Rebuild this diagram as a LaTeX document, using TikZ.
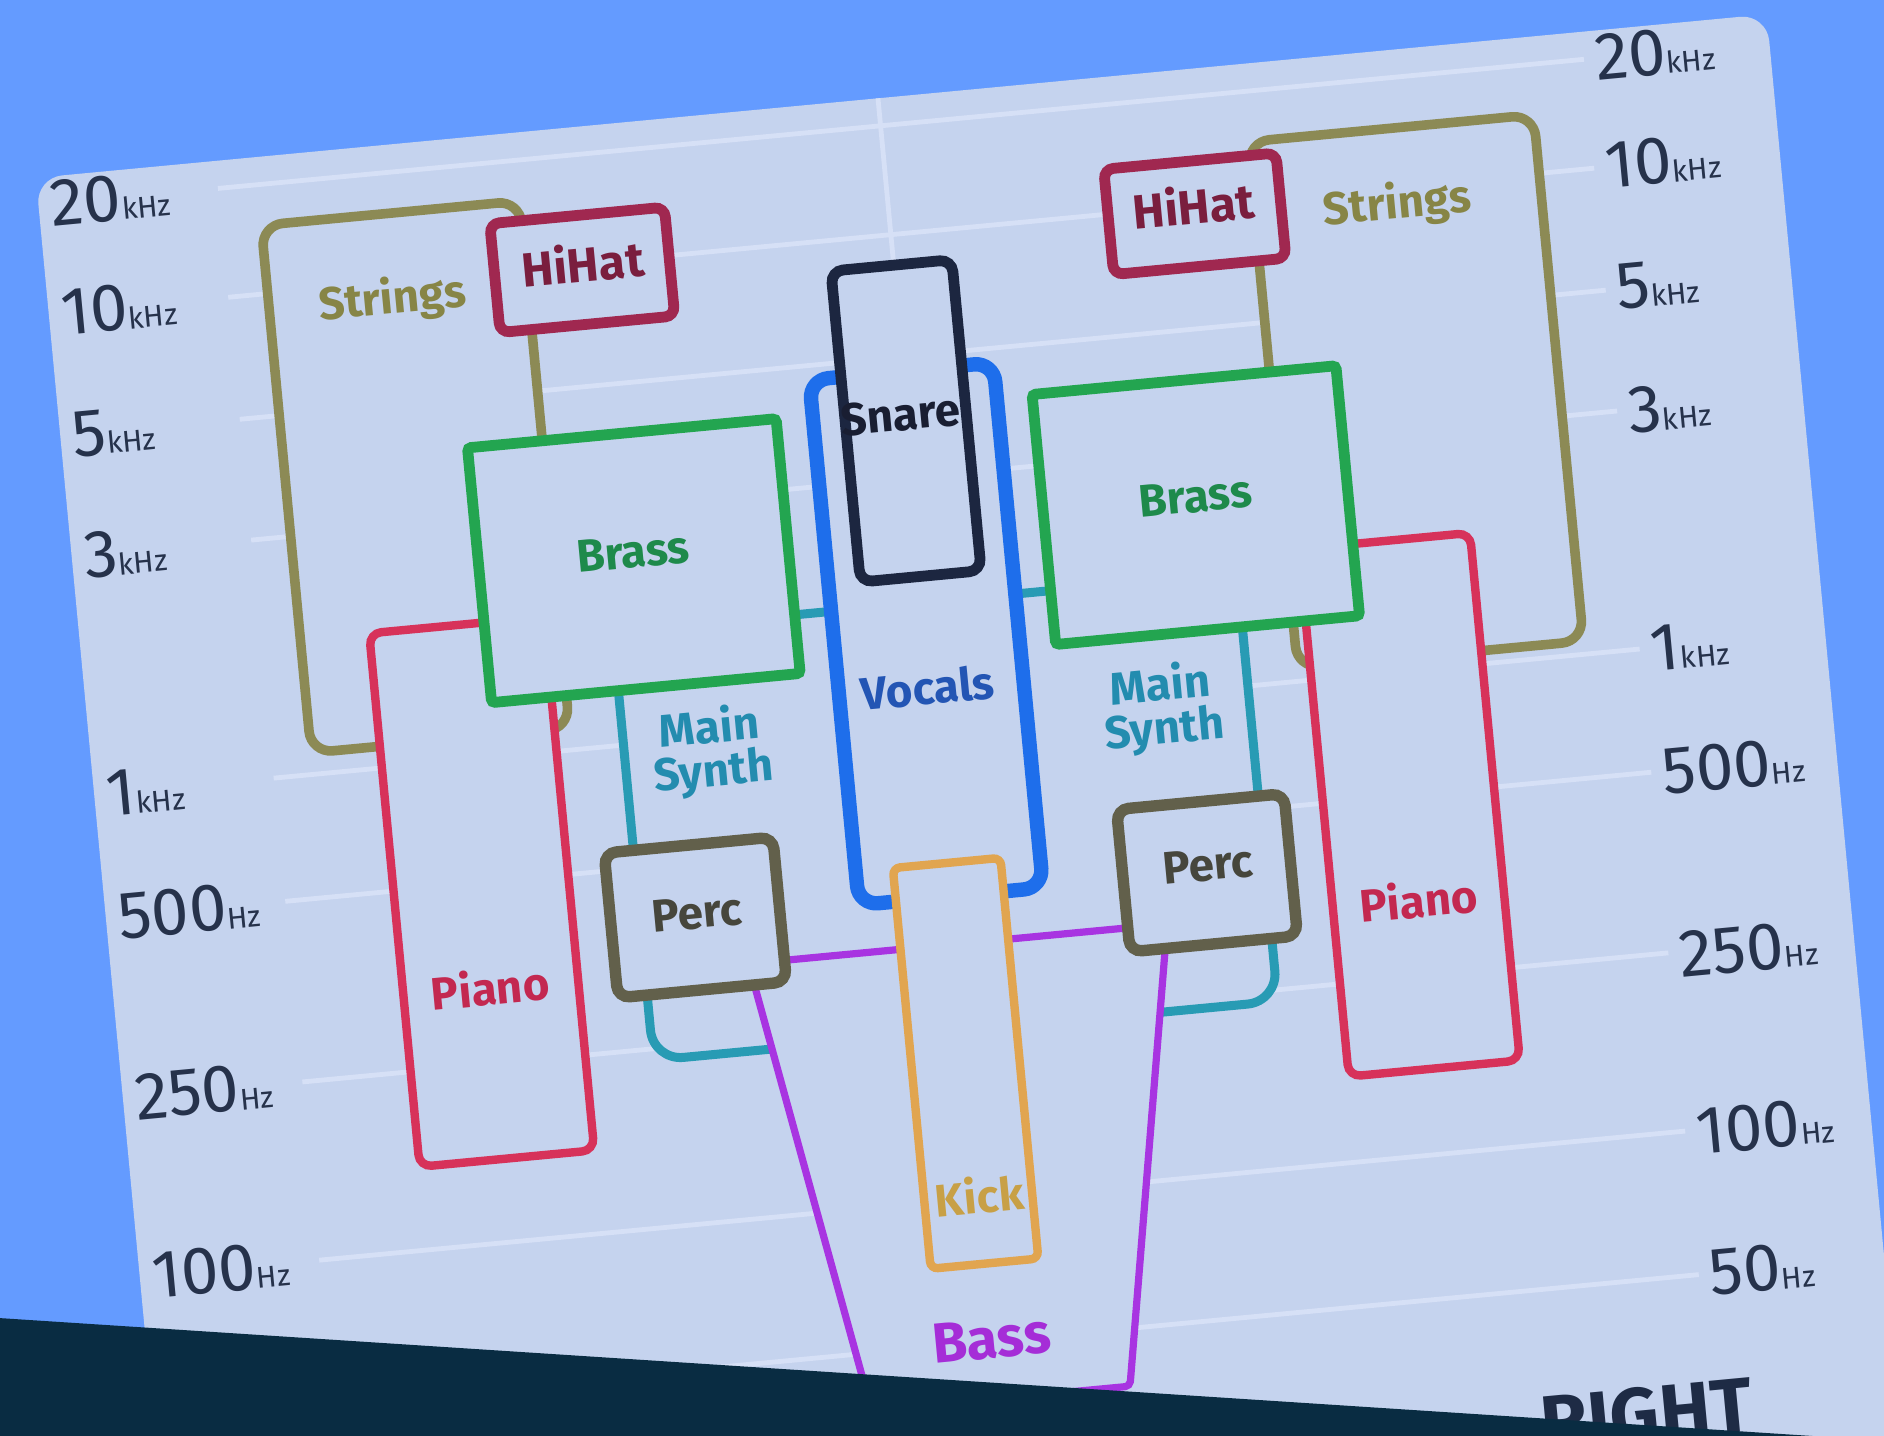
\documentclass[tikz,border=0pt]{standalone}
\usepackage{fontspec}
\setmainfont{Fira Sans}

\definecolor{bgblue}{RGB}{100,155,255}
\definecolor{cardc}{RGB}{197,211,238}
\definecolor{gridc}{RGB}{214,224,246}
\definecolor{bandc}{RGB}{9,44,66}
\definecolor{freqc}{RGB}{38,50,75}
\definecolor{stringsc}{RGB}{140,138,85}
\definecolor{stringst}{RGB}{135,133,70}
\definecolor{hihatc}{RGB}{160,40,80}
\definecolor{hihatt}{RGB}{122,30,62}
\definecolor{brassc}{RGB}{35,165,80}
\definecolor{brasst}{RGB}{30,138,75}
\definecolor{snarec}{RGB}{28,38,64}
\definecolor{snaret}{RGB}{25,30,50}
\definecolor{vocalsc}{RGB}{30,110,235}
\definecolor{vocalst}{RGB}{35,85,180}
\definecolor{synthc}{RGB}{40,155,180}
\definecolor{syntht}{RGB}{35,140,175}
\definecolor{pianoc}{RGB}{215,50,90}
\definecolor{pianot}{RGB}{195,40,80}
\definecolor{percc}{RGB}{98,96,75}
\definecolor{perct}{RGB}{70,70,60}
\definecolor{kickc}{RGB}{225,165,80}
\definecolor{kickt}{RGB}{200,160,70}
\definecolor{bassc}{RGB}{168,52,225}
\definecolor{basst}{RGB}{165,45,215}
\definecolor{sidec}{RGB}{30,43,69}

\newcommand{\freqlabel}[2]{{\fontsize{56}{56}\selectfont #1}{\fontsize{25}{25}\selectfont #2}}

\tikzset{
  inst/.style={draw, fill=cardc, transform shape, inner sep=0pt},
  tag/.style={transform shape, inner sep=0pt, align=center,
    font=\bfseries\fontsize{38}{36}\selectfont},
  freq/.style={transform shape, inner sep=0pt, anchor=west, text=freqc},
  gridline/.style={draw=gridc, line width=4pt},
}

\begin{document}
\begin{tikzpicture}[x=1pt,y=-1pt]
\useasboundingbox (0,0) rectangle (1568,1195);
\clip (0,0) rectangle (1568,1195);
\fill[bgblue] (0,0) rectangle (1568,1195);

\begin{scope}[shift={(42,170)}, rotate=5.4]
  % card
  \fill[cardc, rounded corners=22pt] (-10,-23) rectangle (1437,1350);

  % frequency grid
  \foreach \v in {0,91,193,294,493,596,747,896,1016}
    \draw[gridline] (140,\v) -- (1282,\v);
  \draw[gridline] (694,-23) -- (694,1350);

  % frequency scale, left
  \node[freq] (l20k)  at (0,0)   {\freqlabel{20}{kHz}};
  \node[freq] (l10k)  at (0,91)  {\freqlabel{10}{kHz}};
  \node[freq] (l5k)   at (0,193) {\freqlabel{5}{kHz}};
  \node[freq] (l3k)   at (0,294) {\freqlabel{3}{kHz}};
  \node[freq] (l1k)   at (0,493) {\freqlabel{1}{kHz}};
  \node[freq] (l500)  at (0,596) {\freqlabel{500}{Hz}};
  \node[freq] (l250)  at (0,747) {\freqlabel{250}{Hz}};
  \node[freq] (l100)  at (0,896) {\freqlabel{100}{Hz}};

  % frequency scale, right
  \node[freq] (r20k)  at (1291,0)    {\freqlabel{20}{kHz}};
  \node[freq] (r10k)  at (1291,90)   {\freqlabel{10}{kHz}};
  \node[freq] (r5k)   at (1291,192)  {\freqlabel{5}{kHz}};
  \node[freq] (r3k)   at (1291,295)  {\freqlabel{3}{kHz}};
  \node[freq] (r1k)   at (1291,494)  {\freqlabel{1}{kHz}};
  \node[freq] (r500)  at (1291,597)  {\freqlabel{500}{Hz}};
  \node[freq] (r250)  at (1291,750)  {\freqlabel{250}{Hz}};
  \node[freq] (r100)  at (1291,898)  {\freqlabel{100}{Hz}};
  \node[freq] (r50)   at (1291,1016) {\freqlabel{50}{Hz}};

  % strings
  \node[inst, draw=stringsc, line width=8pt, rounded corners=18pt,
        minimum width=216pt, minimum height=441pt] (stringsL) at (281,254.5) {};
  \node[inst, draw=stringsc, line width=8pt, rounded corners=18pt,
        minimum width=239pt, minimum height=440pt] (stringsR) at (1116.5,262) {};
  \node[tag, text=stringst] (stringsLt) at (276,106) {Strings};
  \node[tag, text=stringst] (stringsRt) at (1116,106) {Strings};

  % piano
  \node[inst, draw=pianoc, line width=7pt, rounded corners=10pt,
        minimum width=146pt, minimum height=446pt] (pianoL) at (303.5,603.5) {};
  \node[inst, draw=pianoc, line width=7pt, rounded corners=10pt,
        minimum width=143pt, minimum height=441pt] (pianoR) at (1079,604) {};
  \node[tag, text=pianot] (pianoLt) at (303,683) {Piano};
  \node[tag, text=pianot] (pianoRt) at (1079,683) {Piano};

  % main synth
  \node[inst, draw=synthc, line width=7.5pt, rounded corners=25pt,
        minimum width=522pt, minimum height=358pt] (synth) at (693.5,577.5) {};
  \node[tag, text=syntht] (synthLt) at (505,505) {Main\\Synth};
  \node[tag, text=syntht] (synthRt) at (882,505) {Main\\Synth};

  % bass
  \coordinate (bassTL) at (519,684);
  \coordinate (bassTR) at (869,684);
  \coordinate (bassBR) at (802,1064);
  \coordinate (bassBL) at (586,1064);
  \filldraw[fill=cardc, draw=bassc, line width=6pt, rounded corners=4pt]
    (bassTL) -- (bassTR) -- (bassBR) -- (bassBL) -- cycle;
  \node[tag, text=basst, font=\bfseries\fontsize{47}{47}\selectfont] (basst) at (691,1014) {Bass};

  % vocals
  \node[inst, draw=vocalsc, line width=12pt, rounded corners=16pt,
        minimum width=154pt, minimum height=439pt] (vocals) at (692,424.5) {};
  \node[tag, text=vocalst] (vocalst) at (689,469) {Vocals};

  % brass
  \node[inst, draw=brassc, line width=9pt, rounded corners=3pt,
        minimum width=258pt, minimum height=213pt] (brassL) at (455.5,341) {};
  \node[inst, draw=brassc, line width=9pt, rounded corners=3pt,
        minimum width=254pt, minimum height=209pt] (brassR) at (925.5,339) {};
  \node[tag, text=brasst] (brassLt) at (455.5,334) {Brass};
  \node[tag, text=brasst] (brassRt) at (926,332) {Brass};

  % hi-hat
  \node[inst, draw=hihatc, line width=9pt, rounded corners=8pt,
        minimum width=146pt, minimum height=91pt] (hihatL) at (435.5,96) {};
  \node[inst, draw=hihatc, line width=9pt, rounded corners=8pt,
        minimum width=144pt, minimum height=88pt] (hihatR) at (947.5,97.5) {};
  \node[tag, text=hihatt, font=\bfseries\fontsize{40}{40}\selectfont] (hihatLt) at (436.5,90) {HiHat};
  \node[tag, text=hihatt, font=\bfseries\fontsize{40}{40}\selectfont] (hihatRt) at (947,90) {HiHat};

  % snare
  \node[inst, draw=snarec, line width=9pt, rounded corners=10pt,
        minimum width=101pt, minimum height=260pt] (snare) at (692,246.5) {};
  \node[tag, text=snaret] (snaret) at (688,241) {Snare};

  % percussion
  \node[inst, draw=percc, line width=9.5pt, rounded corners=10pt,
        minimum width=141pt, minimum height=121pt] (percL) at (478.5,641.5) {};
  \node[inst, draw=percc, line width=9.5pt, rounded corners=10pt,
        minimum width=140pt, minimum height=119pt] (percR) at (906,644.5) {};
  \node[tag, text=perct] (percLt) at (480,638) {Perc};
  \node[tag, text=perct] (percRt) at (907,638) {Perc};

  % kick
  \node[inst, draw=kickc, line width=7pt, rounded corners=6pt,
        minimum width=90pt, minimum height=335pt] (kick) at (691,783.5) {};
  \node[tag, text=kickt] (kickt) at (692,894) {Kick};

  % channel caption
  \node[transform shape, inner sep=0pt, anchor=north west, text=sidec,
        font=\bfseries\fontsize{64}{64}\selectfont] (rightcap) at (1139,1104) {RIGHT};
\end{scope}

% dark band along the bottom
\fill[bandc] (0,1097) -- (1568,1199) -- (1568,1300) -- (0,1300) -- cycle;
\end{tikzpicture}
\end{document}
